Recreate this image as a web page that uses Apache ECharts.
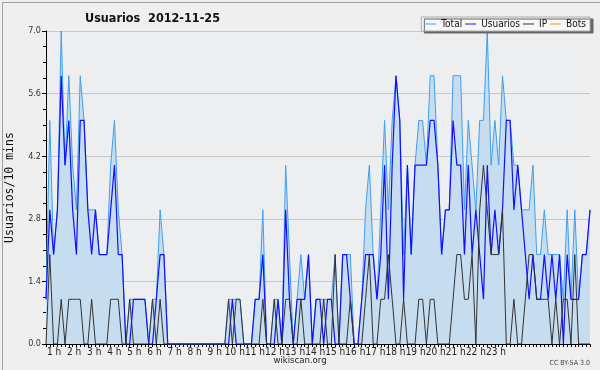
<!DOCTYPE html>
<html>
<head>
<meta charset="utf-8">
<script src="https://cdn.jsdelivr.net/npm/echarts@6/dist/echarts.min.js"></script>
<style>
html,body{margin:0;padding:0;background:#efefef;}
#c{width:600px;height:370px;}
</style>
</head>
<body>
<div id="c"></div>
<script>
// 10-minute slots of the day (144)
var slots = [];
for (var h = 0; h < 24; h++) { for (var m = 0; m < 60; m += 10) { slots.push((h < 10 ? '0' : '') + h + ':' + (m < 10 ? '0' : '') + m); } }

var total = [
  1,5,2,3,7,4,6,4,3,6, 5,3,3,3,2,2,2,4,5,3,
  2,0,1,1,1,1,1,0,1,1, 3,2,0,0,0,0,0,0,0,0,
  0,0,0,0,0,0,0,0,1,1, 1,1,0,0,0,1,1,3,0,0,
  1,1,0,4,2,0,1,2,1,2, 0,1,1,1,1,1,2,0,2,2,
  2,0,0,1,3,4,2,1,3,5, 3,5,6,5,2,4,2,4,5,5,
  4,6,6,4,2,3,3,6,6,6, 3,5,4,3,5,5,7,4,5,4,
  6,5,5,4,4,3,3,3,4,2, 2,3,2,2,2,2,1,3,1,3,
  1,2,2,3];
var usuarios = [
  1,3,2,3,6,4,5,3,2,5, 5,3,2,3,2,2,2,3,4,2,
  2,0,0,1,1,1,1,0,0,1, 2,2,0,0,0,0,0,0,0,0,
  0,0,0,0,0,0,0,0,0,1, 0,0,0,0,0,1,1,2,0,0,
  0,1,0,3,1,0,1,1,1,2, 0,1,1,0,1,1,0,0,2,2,
  1,0,0,1,2,2,2,1,2,4, 1,4,6,5,1,4,2,4,4,4,
  4,5,5,4,2,3,3,5,4,4, 2,4,2,3,2,1,4,2,3,2,
  3,5,5,3,4,3,2,1,2,1, 1,2,1,2,1,2,0,2,1,1,
  1,2,2,3];
var ip = [
  0,2,0,0,1,0,1,1,1,1, 0,0,1,0,0,0,0,1,1,1,
  0,0,1,0,0,0,0,0,1,0, 1,0,0,0,0,0,0,0,0,0,
  0,0,0,0,0,0,0,0,1,0, 1,1,0,0,0,0,0,1,0,0,
  1,0,0,1,1,0,0,1,0,0, 0,0,0,1,0,0,2,0,0,0,
  1,0,0,0,1,2,0,0,1,1, 2,1,0,0,1,0,0,0,1,1,
  0,1,1,0,0,0,0,1,2,2, 1,1,2,0,3,4,3,2,2,2,
  3,0,0,1,0,0,1,2,2,1, 1,1,1,0,1,0,1,1,0,2,
  0,0,0,0];
var bots = [];

var hourLabels = ['1 h','2 h','3 h','4 h','5 h','6 h','7 h','8 h','9 h','10 h','11 h','12 h','13 h','14 h','15 h','16 h','17 h','18 h','19 h','20 h','21 h','22 h','23 h'];
var hourLabelPos = [1,2,3,4,5,6,7,8,9,10,11,12,13,14,15,16,17,18,19,20,21,22,23];

var FONT = 'DejaVu Sans Condensed, DejaVu Sans, sans-serif';
var chart = echarts.init(document.getElementById('c'), null, {renderer: 'canvas'});
chart.setOption({
  backgroundColor: '#efefef',
  animation: false,
  title: {
    text: 'Usuarios  2012-11-25', left: 80, top: 7,
    textStyle: {fontFamily: FONT, fontWeight: 'bold', fontSize: 12.5, color: '#111'}
  },
  legend: {
    right: 10, top: 17, padding: [2, 4, 2, 4],
    itemWidth: 11, itemHeight: 1, itemGap: 3, icon: 'rect',
    backgroundColor: '#f7f7f7', borderColor: '#aaaaaa', borderWidth: 1,
    shadowColor: '#666', shadowOffsetX: 3, shadowOffsetY: 2, shadowBlur: 0,
    textStyle: {fontFamily: FONT, fontSize: 10, color: '#111'},
    data: ['Total', 'Usuarios', 'IP', 'Bots']
  },
  grid: {left: 46, right: 10, top: 31, bottom: 26, show: true, backgroundColor: '#edeef0', borderWidth: 0,
    containLabel: false, outerBoundsMode: 'none'},
  xAxis: [{
    type: 'category', data: slots, boundaryGap: false,
    axisLine: {lineStyle: {color: '#000', width: 1}},
    axisTick: {show: true, interval: 0, length: 3, lineStyle: {color: '#000'}},
    axisLabel: {show: false}, splitLine: {show: false}
  }, {
    type: 'value', position: 'bottom', min: 0.6, max: 27.68,
    axisLine: {show: false}, axisTick: {show: false}, splitLine: {show: false},
    axisLabel: {show: true, customValues: hourLabelPos, margin: 3, fontFamily: FONT, fontSize: 10, color: '#222',
      formatter: function (v) { return hourLabels[hourLabelPos.indexOf(v)]; }}
  }],
  yAxis: {
    type: 'value', min: 0, max: 7, interval: 1.4,
    name: 'Usuarios/10 mins', nameLocation: 'middle', nameGap: 30, nameRotate: 90,
    nameTextStyle: {fontFamily: 'DejaVu Sans Mono, monospace', fontSize: 11.5, color: '#111'},
    axisLine: {show: true, lineStyle: {color: '#000'}},
    axisTick: {show: true, length: 4, lineStyle: {color: '#000'}},
    minorTick: {show: true, splitNumber: 4, length: 3, lineStyle: {color: '#000'}},
    axisLabel: {fontFamily: FONT, fontSize: 9, color: '#333', margin: 5, formatter: function (v) { return v.toFixed(1); }},
    splitLine: {show: true, lineStyle: {color: '#c8c8c8', width: 1}}
  },
  series: [
    {name: 'Total', type: 'line', data: total, symbol: 'none', lineStyle: {color: '#3f9ff0', width: 1}, itemStyle: {color: '#3f9ff0'},
      areaStyle: {color: '#c6dcef', opacity: 1}, z: 2},
    {name: 'Usuarios', type: 'line', data: usuarios, symbol: 'none', lineStyle: {color: '#1010ff', width: 1.2}, itemStyle: {color: '#1010ff'}, z: 3},
    {name: 'IP', type: 'line', data: ip, symbol: 'none', lineStyle: {color: '#333333', width: 1}, itemStyle: {color: '#333333'}, z: 4},
    {name: 'Bots', type: 'line', data: bots, symbol: 'none', lineStyle: {color: '#ff9900', width: 1}, itemStyle: {color: '#ff9900'}, z: 1}
  ],
  graphic: [
    {type: 'rect', left: 0, top: 0, shape: {width: 599, height: 369}, style: {fill: 'none', stroke: '#a0a0a0', lineWidth: 1}, silent: true},
    {type: 'text', x: 300, y: 356, style: {text: 'wikiscan.org', font: '9.5px ' + FONT, fill: '#222', textAlign: 'center'}},
    {type: 'text', right: 10, top: 360, style: {text: 'CC BY-SA 3.0', font: '7px ' + FONT, fill: '#444'}}
  ]
});
</script>
</body>
</html>
